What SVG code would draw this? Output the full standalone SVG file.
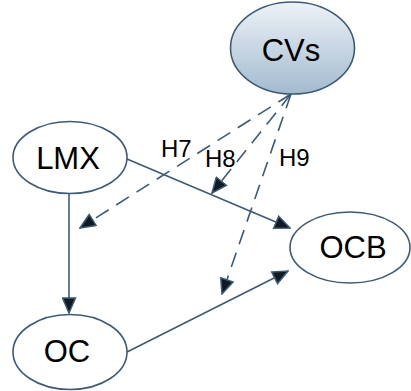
<svg xmlns="http://www.w3.org/2000/svg" width="411" height="391" viewBox="0 0 411 391">
  <style>
    .node { fill: #ffffff; stroke: #3e5b75; stroke-width: 1.6; }
    .label { font-family: "Liberation Sans", Arial, sans-serif; font-size: 31px; fill: #000000; text-anchor: middle; }
    .hyp { font-family: "Liberation Sans", Arial, sans-serif; font-size: 24px; fill: #000000; }
    .edge { fill: none; stroke: #3e5b75; stroke-width: 1.6; }
    .dash { stroke-dasharray: 15 9; }
  </style>
  <defs>
    <linearGradient id="cvFill" x1="0" y1="0" x2="0" y2="1">
      <stop offset="0" stop-color="#edf2f7"/>
      <stop offset="1" stop-color="#a3bbcf"/>
    </linearGradient>
    <marker id="head" viewBox="0 0 17 15" refX="16" refY="7.5" markerWidth="17" markerHeight="15" markerUnits="userSpaceOnUse" orient="auto">
      <path d="M1,1 L16,7.5 L1,14 z" fill="#111a22" stroke="#3e5b75" stroke-width="1.5" stroke-linejoin="miter"/>
    </marker>
  </defs>

  <g id="connectors">
    <line class="edge" x1="69" y1="194" x2="69" y2="313" marker-end="url(#head)"/>
    <line class="edge" x1="127" y1="159" x2="290" y2="228" marker-end="url(#head)"/>
    <line class="edge" x1="127" y1="352" x2="288" y2="271" marker-end="url(#head)"/>
    <line class="edge dash" x1="291" y1="94" x2="80" y2="228" marker-end="url(#head)"/>
    <line class="edge dash" x1="291" y1="94" x2="212" y2="193" marker-end="url(#head)"/>
    <line class="edge dash" x1="291" y1="94" x2="222" y2="294" marker-end="url(#head)"/>
  </g>

  <g id="hyp-labels">
    <text class="hyp" x="161" y="157">H7</text>
    <text class="hyp" x="205" y="167">H8</text>
    <text class="hyp" x="279" y="166">H9</text>
  </g>

  <g id="node-cvs">
    <ellipse class="node" cx="292.5" cy="48" rx="62" ry="46" style="fill:url(#cvFill)"/>
    <text class="label" x="291" y="61">CVs</text>
  </g>

  <g id="node-lmx">
    <ellipse class="node" cx="70" cy="157.5" rx="57" ry="36"/>
    <text class="label" x="68" y="169">LMX</text>
  </g>

  <g id="node-ocb">
    <ellipse class="node" cx="350" cy="247.5" rx="60" ry="35.5"/>
    <text class="label" x="353" y="258">OCB</text>
  </g>

  <g id="node-oc">
    <ellipse class="node" cx="70" cy="352" rx="57" ry="37.5"/>
    <text class="label" x="67" y="362">OC</text>
  </g>
</svg>
